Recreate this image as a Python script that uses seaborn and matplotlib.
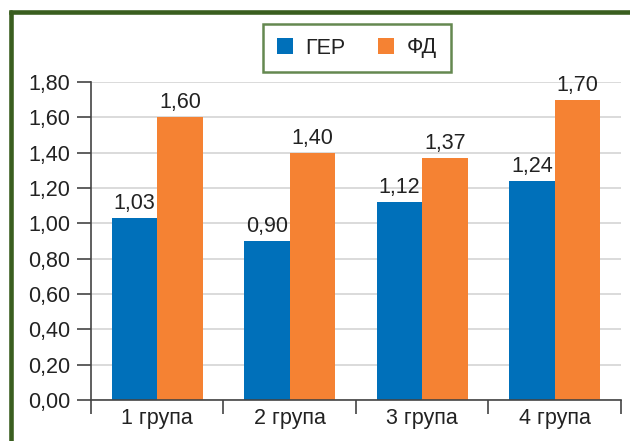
import matplotlib
matplotlib.use("Agg")
import matplotlib.pyplot as plt
import seaborn as sns
import pandas as pd
from matplotlib.lines import Line2D

groups = ["1 група", "2 група", "3 група", "4 група"]
ger = [1.03, 0.90, 1.12, 1.24]
fd = [1.60, 1.40, 1.37, 1.70]
series = ["ГЕР", "ФД"]
colors = ["#0070BA", "#F58233"]
yticks = [0.0, 0.2, 0.4, 0.6, 0.8, 1.0, 1.2, 1.4, 1.6, 1.8]

df = pd.DataFrame({
    "group": groups * 2,
    "series": [series[0]] * 4 + [series[1]] * 4,
    "value": ger + fd,
})

sns.set_style("white")
plt.rcParams["font.family"] = ["Liberation Sans", "DejaVu Sans"]
txt = "#222222"
fs = 15.5

fig = plt.figure(figsize=(6.3, 4.41), dpi=100)
ax = fig.add_axes([0.1444, 0.093, 0.8413, 0.721])

sns.barplot(data=df, x="group", y="value", hue="series", palette=colors,
            width=0.69, gap=0, saturation=1, linewidth=0, ax=ax, legend=True)

ax.set_ylim(0, 1.8)
ax.set_xlim(-0.5, 3.5)
ax.set_yticks(yticks)
ax.set_yticklabels([f"{v:.2f}".replace(".", ",") for v in yticks], fontsize=fs, color=txt)
ax.set_xticks([-0.5, 0.5, 1.5, 2.5, 3.5], minor=False)
ax.set_xticklabels([])
ax.set_xticks([0, 1, 2, 3], minor=True)
ax.set_xticklabels(groups, minor=True, fontsize=fs, color=txt)
ax.tick_params(axis="x", which="minor", bottom=True, length=0, pad=6)
ax.tick_params(axis="x", which="major", bottom=True, length=10, width=1.2,
               color="#444444", direction="out")
ax.tick_params(axis="y", left=True, length=10, width=1.2, color="#444444",
               direction="out", pad=5)
ax.set_xlabel("")
ax.set_ylabel("")
ax.grid(axis="y", color="#d4d4d4", linewidth=1.2)
ax.set_axisbelow(True)
for s in ["top", "right"]:
    ax.spines[s].set_visible(False)
for s in ["left", "bottom"]:
    ax.spines[s].set_color("#444444")
    ax.spines[s].set_linewidth(1.2)

for cont in ax.containers:
    ax.bar_label(cont, labels=[f"{v:.2f}".replace(".", ",") for v in cont.datavalues],
                 fontsize=fs, color=txt, padding=3)

leg = ax.legend(loc="center", bbox_to_anchor=(357 / 630, 1 - 48 / 441),
                bbox_transform=fig.transFigure, ncol=2, frameon=True,
                fontsize=fs, handlelength=0.75, handleheight=0.75,
                columnspacing=1.5, handletextpad=0.6, fancybox=False,
                borderpad=0.65, borderaxespad=0)
leg.get_frame().set_edgecolor("#3E6A24")
leg.get_frame().set_linewidth(1.8)
for t in leg.get_texts():
    t.set_color(txt)

# green frame, top and left only
fig.add_artist(Line2D([10.5 / 630, 10.5 / 630], [0, 1 - 11.5 / 441],
                      transform=fig.transFigure, color="#3A5E1F", linewidth=3.3))
fig.add_artist(Line2D([10.5 / 630, 1], [1 - 11.5 / 441, 1 - 11.5 / 441],
                      transform=fig.transFigure, color="#3A5E1F", linewidth=3.3,
                      solid_capstyle="projecting"))

fig.savefig("out.png", dpi=100)
